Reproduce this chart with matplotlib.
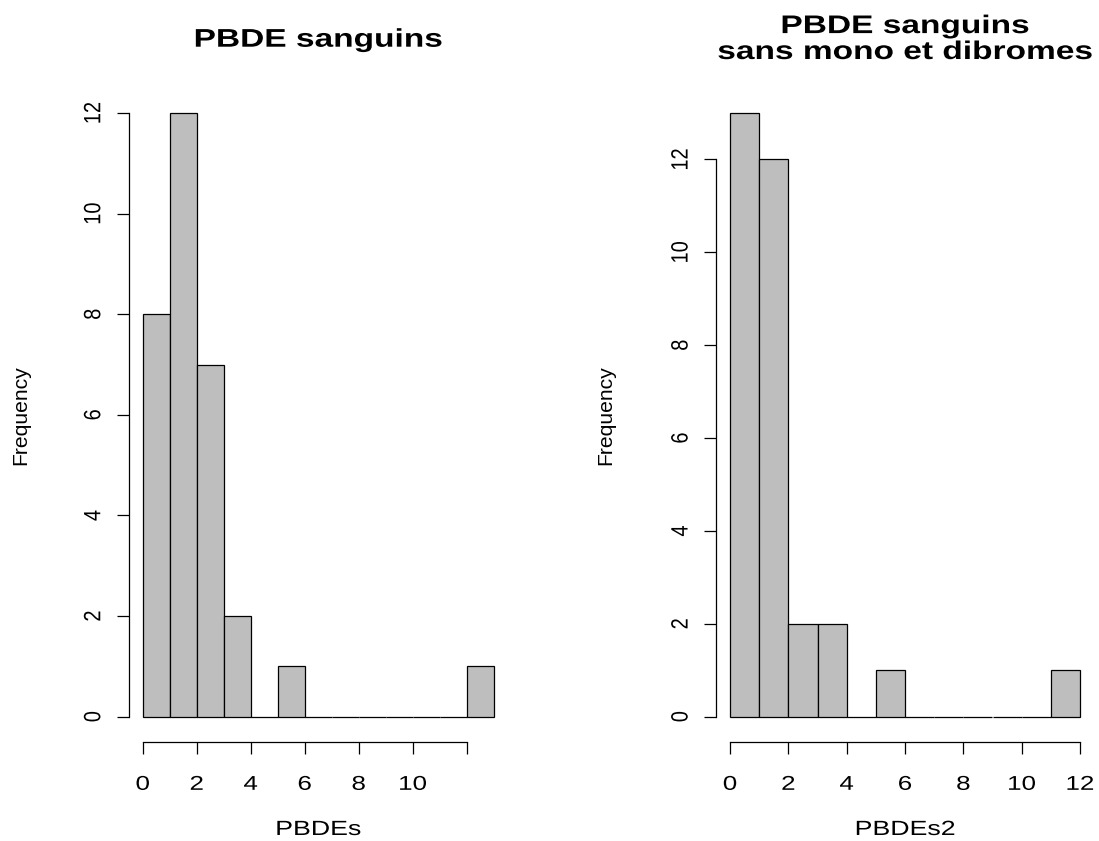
import numpy as np
import matplotlib
matplotlib.use("Agg")
import matplotlib.pyplot as plt
from matplotlib.patheffects import AbstractPathEffect
from matplotlib.transforms import Affine2D

plt.rcParams['font.family'] = ['Liberation Sans', 'DejaVu Sans']

# Left histogram: PBDEs
edges1 = [0, 1, 2, 3, 4, 5, 6, 7, 8, 9, 10, 11, 12, 13]
counts1 = [8, 12, 7, 2, 0, 1, 0, 0, 0, 0, 0, 0, 1]
xticks1 = [0, 2, 4, 6, 8, 10, 12]
xticklabels1 = ['0', '2', '4', '6', '8', '10', '']
yticks1 = [0, 2, 4, 6, 8, 10, 12]

# Right histogram: PBDEs2
edges2 = [0, 1, 2, 3, 4, 5, 6, 7, 8, 9, 10, 11, 12]
counts2 = [13, 12, 2, 2, 0, 1, 0, 0, 0, 0, 0, 1]
xticks2 = [0, 2, 4, 6, 8, 10, 12]
xticklabels2 = ['0', '2', '4', '6', '8', '10', '12']
yticks2 = [0, 2, 4, 6, 8, 10, 12]

titles = ["PBDE sanguins", "PBDE sanguins\nsans mono et dibromes"]
xlabels = ["PBDEs", "PBDEs2"]
ylabel = "Frequency"


class HStretch(AbstractPathEffect):
    """Stretch rendered text horizontally about its own centre."""
    def __init__(self, sx):
        super().__init__()
        self.sx = sx

    def draw_path(self, renderer, gc, tpath, affine, rgbFace=None):
        ext = tpath.get_extents(affine)
        cx = 0.5 * (ext.x0 + ext.x1)
        aff = affine + Affine2D().translate(-cx, 0).scale(self.sx, 1).translate(cx, 0)
        renderer.draw_path(gc, tpath, aff, rgbFace)


W, H = 1099, 841
fig = plt.figure(figsize=(W / 100, H / 100), dpi=100)

AX_BOTTOM = 841 - 740.8
AX_TOP = 841 - 88.9


def make(ax, edges, counts, xticks, xticklabels, yticks, xlabel, ylab_x):
    edges = np.asarray(edges, float)
    counts = np.asarray(counts, float)
    ax.bar(edges[:-1], counts, width=np.diff(edges), align='edge',
           color='#BEBEBE', edgecolor='black', linewidth=0.9)
    xr = edges[-1] - edges[0]
    ax.set_xlim(edges[0] - 0.04 * xr, edges[-1] + 0.04 * xr)
    ymax = counts.max()
    ax.set_ylim(-0.04 * ymax, ymax * 1.04)
    for s in ['top', 'right']:
        ax.spines[s].set_visible(False)
    ax.spines['left'].set_bounds(yticks[0], yticks[-1])
    ax.spines['bottom'].set_bounds(xticks[0], xticks[-1])
    ax.spines['bottom'].set_position(('outward', 1))
    for s in ['left', 'bottom']:
        ax.spines[s].set_linewidth(0.9)
    ax.set_xticks(xticks)
    ax.set_xticklabels(xticklabels)
    ax.set_yticks(yticks)
    ax.set_yticklabels([str(v) for v in yticks], rotation=90, va='center')
    ax.tick_params(axis='both', length=8.5, width=0.9, labelsize=14.4, direction='out')
    ax.tick_params(axis='x', pad=15)
    ax.tick_params(axis='y', pad=10)
    for t in ax.get_xticklabels():
        t.set_path_effects([HStretch(1.3)])
    for t in ax.get_yticklabels():
        t.set_path_effects([HStretch(1.18)])
    ax.set_xlabel(xlabel, fontsize=14.8, va='bottom')
    ax.xaxis.set_label_coords(0.5, (740.8 - 839) / 651.9)
    ax.xaxis.label.set_path_effects([HStretch(1.3)])
    ax.set_ylabel(ylabel, fontsize=15.2, va='center')
    ax.yaxis.set_label_coords(ylab_x, 0.5)


ax1 = fig.add_axes([128.7 / W, AX_BOTTOM / H, (507.7 - 128.7) / W, (AX_TOP - AX_BOTTOM) / H])
make(ax1, edges1, counts1, xticks1, xticklabels1, yticks1, xlabels[0],
     (20.7 - 128.7) / (507.7 - 128.7))
ax2 = fig.add_axes([716 / W, AX_BOTTOM / H, (1094 - 716) / W, (AX_TOP - AX_BOTTOM) / H])
make(ax2, edges2, counts2, xticks2, xticklabels2, yticks2, xlabels[1],
     (606 - 716) / (1094 - 716))

t1 = fig.text((128.7 + 507.7) / 2 / W, 1 - 46.7 / H, titles[0], ha='center',
              va='baseline', fontsize=18.4, fontweight='bold')
t2 = fig.text((716 + 1094) / 2 / W, 1 - 59.0 / H, titles[1], ha='center',
              va='baseline', fontsize=18.4, fontweight='bold', linespacing=1.1)
for t in (t1, t2):
    t.set_path_effects([HStretch(1.31)])

fig.savefig("out.png", dpi=100)
